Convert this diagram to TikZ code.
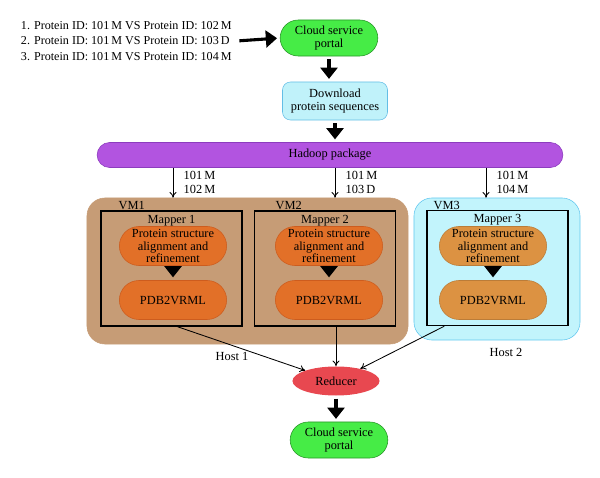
\documentclass[tikz,border=0pt]{standalone}
\usepackage{fontspec}
\setmainfont{Liberation Serif}
\usetikzlibrary{shapes.geometric,shapes.misc,arrows.meta,positioning}
\definecolor{portalgreen}{RGB}{70,236,70}
\definecolor{portaledge}{RGB}{40,150,40}
\definecolor{dlcyan}{RGB}{192,242,250}
\definecolor{dledge}{RGB}{100,190,230}
\definecolor{hadooppurple}{RGB}{178,84,224}
\definecolor{hadoopedge}{RGB}{140,60,190}
\definecolor{hostbrown}{RGB}{198,156,118}
\definecolor{vmcyan}{RGB}{194,244,252}
\definecolor{vmedge}{RGB}{100,200,240}
\definecolor{taskorange}{RGB}{226,112,40}
\definecolor{taskedge}{RGB}{205,92,30}
\definecolor{taskochre}{RGB}{220,146,66}
\definecolor{reducered}{RGB}{232,72,80}
\tikzset{
  portal/.style    = {rounded rectangle, draw=portaledge, fill=portalgreen,
                      minimum width=2.675cm, minimum height=0.9cm, align=center},
  download/.style  = {rectangle, rounded corners=0.2cm, draw=dledge, fill=dlcyan,
                      minimum width=2.625cm, minimum height=0.95cm, align=center},
  task/.style      = {rounded rectangle, draw=taskedge, fill=taskorange, inner sep=1pt,
                      align=center, font=\fontsize{8.8pt}{9.2pt}\selectfont,
                      minimum width=2.75cm, minimum height=0.975cm},
  mapperbox/.style = {rectangle, draw, line width=1pt,
                      minimum width=3.525cm, minimum height=2.875cm},
  hostbox/.style   = {rectangle, rounded corners=0.45cm},
  bigarrow/.style  = {-{Triangle[length=8pt,width=12pt]}, line width=2.2pt,
                      shorten <=2pt, shorten >=2pt},
  thinarrow/.style = {-{To[length=4pt,width=5pt]}, semithick}
}
\begin{document}
\begin{tikzpicture}[x=0.025cm, y=-0.025cm, font=\fontsize{8.8pt}{9.8pt}\selectfont]
  \useasboundingbox (0,0) rectangle (600,478);
  \node[anchor=west, align=left, font=\fontsize{8.6pt}{11pt}\selectfont] (list) at (16,41)
    {1. Protein ID: 101\,M VS Protein ID: 102\,M\\
     2. Protein ID: 101\,M VS Protein ID: 103\,D\\
     3. Protein ID: 101\,M VS Protein ID: 104\,M};
  \node[portal] (portal) at (329,38) {Cloud service\\portal};
  \node[download] (dl) at (335,101) {Download\\protein sequences};
  \node[rounded rectangle, draw=hadoopedge, fill=hadooppurple,
        minimum width=11.875cm, minimum height=0.625cm] (hadoop) at (330,155) {Hadoop package};

  \node[hostbox, draw=hostbrown, fill=hostbrown,
        minimum width=8.025cm, minimum height=3.65cm] (host1) at (247.5,271) {};
  \node[hostbox, draw=vmedge, fill=vmcyan,
        minimum width=4.15cm, minimum height=3.55cm] (vm3) at (497,269) {};
  \node[anchor=south west, inner sep=1pt] (vm1label) at (117,211) {VM1};
  \node[anchor=south west, inner sep=1pt] (vm2label) at (274,211) {VM2};
  \node[anchor=south west, inner sep=1pt] (vm3label) at (432,211) {VM3};

  \node[mapperbox] (mapper1) at (171.5,268.5) {};
  \node[mapperbox] (mapper2) at (325,268.5) {};
  \node[mapperbox] (mapper3) at (497.5,268) {};
  \node[below=0pt of mapper1.north] (m1label) {Mapper 1};
  \node[below=0pt of mapper2.north] (m2label) {Mapper 2};
  \node[below=0pt of mapper3.north] (m3label) {Mapper 3};

  \node[task] (align1) at (173,246) {Protein structure\\alignment and\\refinement};
  \node[task] (pdb1) at (173,300) {PDB2VRML};
  \node[task] (align2) at (329,246) {Protein structure\\alignment and\\refinement};
  \node[task] (pdb2) at (329,300) {PDB2VRML};
  \node[task, fill=taskochre, draw=taskochre!85!black] (align3) at (493,246) {Protein structure\\alignment and\\refinement};
  \node[task, fill=taskochre, draw=taskochre!85!black] (pdb3) at (493,300) {PDB2VRML};

  \node[ellipse, fill=reducered, minimum width=2.175cm, minimum height=0.725cm] (reducer) at (336,381) {Reducer};
  \node[portal] (portal2) at (339,440) {Cloud service\\portal};
  \node (host1label) at (232,356) {Host 1};
  \node (host2label) at (506,352) {Host 2};

  \draw[bigarrow] (list.east) -- (portal.west);
  \draw[bigarrow] (portal.south) -- (portal.south |- dl.north);
  \draw[bigarrow] (dl.south) -- (dl.south |- hadoop.north);
  \draw[bigarrow] (align1) -- (pdb1);
  \draw[bigarrow] (align2) -- (pdb2);
  \draw[bigarrow] (align3) -- (pdb3);
  \draw[bigarrow] (reducer.south) -- (reducer.south |- portal2.north);

  \draw[thinarrow] (hadoop.south -| align1) -- (host1.north -| align1)
    node[midway, right=4pt, align=left] {101\,M\\102\,M};
  \draw[thinarrow] ([xshift=0.15cm]hadoop.south -| align2) -- ([xshift=0.15cm]host1.north -| align2)
    node[midway, right=4pt, align=left] {101\,M\\103\,D};
  \draw[thinarrow] ([xshift=-0.175cm]hadoop.south -| align3) -- ([xshift=-0.175cm]vm3.north -| align3)
    node[midway, right=4pt, align=left] {101\,M\\104\,M};

  \draw[thinarrow] ([xshift=0.15cm]mapper1.south) -- (reducer);
  \draw[thinarrow] (reducer.north |- mapper2.south) -- (reducer.north);
  \draw[thinarrow] ([xshift=0.45cm]mapper3.south west) -- (reducer);
\end{tikzpicture}
\end{document}
